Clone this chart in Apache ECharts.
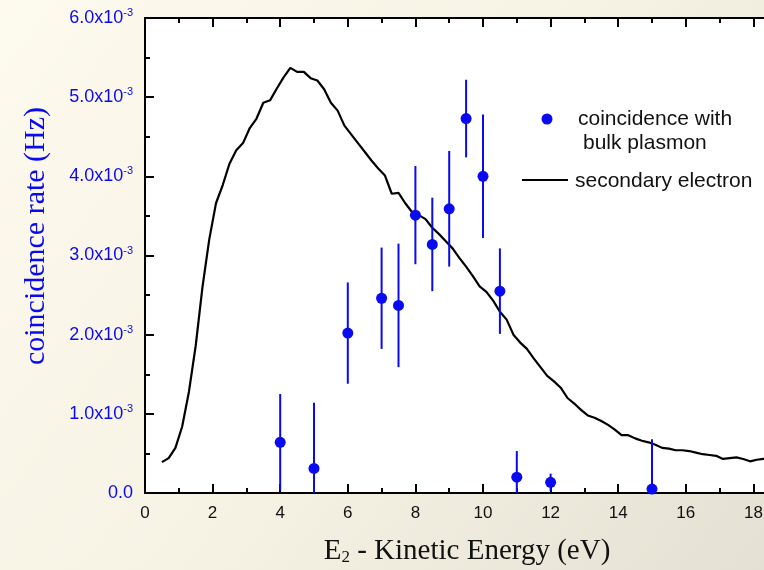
<!DOCTYPE html>
<html>
<head>
<meta charset="utf-8">
<script src="https://cdn.jsdelivr.net/npm/echarts@6/dist/echarts.min.js"></script>
<style>
  html, body { margin: 0; padding: 0; }
  #chart { width: 764px; height: 570px; }
</style>
</head>
<body>
<div id="chart"></div>
<script>
// Secondary electron spectrum (rate in units of 10^-3 Hz)
const energyGrid = [0.5, 0.7, 0.9, 1.1, 1.3, 1.5, 1.7, 1.9, 2.1, 2.3, 2.5, 2.7, 2.9, 3.1, 3.3, 3.5, 3.7, 3.9,
  4.1, 4.3, 4.5, 4.7, 4.9, 5.1, 5.3, 5.5, 5.7, 5.9, 6.1, 6.3, 6.5, 6.7, 6.9, 7.1, 7.3, 7.5, 7.7, 7.9,
  8.1, 8.3, 8.5, 8.7, 8.9, 9.1, 9.3, 9.5, 9.7, 9.9, 10.1, 10.3, 10.5, 10.7, 10.9, 11.1, 11.3, 11.5,
  11.7, 11.9, 12.1, 12.3, 12.5, 12.7, 12.9, 13.1, 13.3, 13.5, 13.7, 13.9, 14.1, 14.3, 14.5, 14.7,
  14.9, 15.1, 15.3, 15.5, 15.7, 15.9, 16.1, 16.3, 16.5, 16.7, 16.9, 17.1, 17.3, 17.5, 17.7, 17.9,
  18.1, 18.3, 18.5];
const secondaryRate = [0.39, 0.44, 0.57, 0.84, 1.28, 1.86, 2.60, 3.20, 3.66, 3.89, 4.16, 4.33, 4.42, 4.61, 4.73, 4.93, 4.96, 5.11,
  5.25, 5.37, 5.32, 5.32, 5.24, 5.21, 5.10, 4.93, 4.83, 4.64, 4.53, 4.42, 4.31, 4.20, 4.10, 4.01, 3.78, 3.79, 3.66, 3.55,
  3.51, 3.46, 3.35, 3.27, 3.18, 3.09, 2.97, 2.86, 2.74, 2.61, 2.54, 2.43, 2.29, 2.19, 2.00, 1.90, 1.82, 1.70,
  1.59, 1.48, 1.41, 1.33, 1.20, 1.13, 1.05, 0.98, 0.95, 0.91, 0.86, 0.80, 0.73, 0.73, 0.69, 0.66,
  0.64, 0.61, 0.57, 0.56, 0.54, 0.54, 0.53, 0.51, 0.49, 0.48, 0.47, 0.43, 0.44, 0.45, 0.43, 0.40,
  0.42, 0.43, 0.42];

// Coincidence with bulk plasmon: energy, rate and error (10^-3 Hz)
const pointEnergy = [4, 5, 6, 7, 7.5, 8, 8.5, 9, 9.5, 10, 10.5, 11, 12, 15];
const pointRate   = [0.64, 0.31, 2.02, 2.46, 2.37, 3.51, 3.14, 3.59, 4.73, 4.00, 2.55, 0.20, 0.135, 0.05];
const pointError  = [0.61, 0.83, 0.64, 0.64, 0.78, 0.62, 0.59, 0.73, 0.49, 0.78, 0.54, 0.33, 0.11, 0.63];

const xTicks = { min: 0, max: 20, interval: 2 };
const yTicks = { min: 0, max: 6, interval: 1 };

const BLUE = '#0a0af0';
const SANS = '"Liberation Sans", Arial, sans-serif';
const SERIF = '"Liberation Serif", "Times New Roman", serif';

const curveData = energyGrid.map((e, i) => [e, secondaryRate[i]]);
const pointData = pointEnergy.map((e, i) => [e, pointRate[i]]);
const errorData = pointEnergy.map((e, i) => [e, pointRate[i] - pointError[i], pointRate[i] + pointError[i]]);

const tickStyle = { show: true, inside: true, length: 9, lineStyle: { color: '#000', width: 2 } };
const minorStyle = { show: true, splitNumber: 2, length: 5, lineStyle: { color: '#000', width: 2 } };

const chart = echarts.init(document.getElementById('chart'), null, { renderer: 'canvas' });

chart.setOption({
  animation: false,
  backgroundColor: {
    type: 'linear', x: 0, y: 0, x2: 1, y2: 1,
    colorStops: [
      { offset: 0, color: '#FDFAEE' },
      { offset: 0.5, color: '#F6F2E4' },
      { offset: 1, color: '#E4E0D3' }
    ]
  },
  grid: {
    left: 145, top: 18, width: 676, height: 475,
    outerBoundsMode: 'none',
    containLabel: false,
    show: true, backgroundColor: '#ffffff', borderWidth: 0
  },
  xAxis: [{
    type: 'value', position: 'bottom',
    min: xTicks.min, max: xTicks.max, interval: xTicks.interval,
    axisLine: { show: true, onZero: false, lineStyle: { color: '#000', width: 2 } },
    axisTick: tickStyle, minorTick: minorStyle,
    splitLine: { show: false },
    axisLabel: { color: '#111', fontFamily: SANS, fontSize: 17, margin: 12 }
  }, {
    type: 'value', position: 'top',
    min: xTicks.min, max: xTicks.max, interval: xTicks.interval,
    axisLine: { show: true, onZero: false, lineStyle: { color: '#000', width: 2 } },
    axisTick: tickStyle, minorTick: minorStyle,
    splitLine: { show: false },
    axisLabel: { show: false }
  }],
  yAxis: {
    type: 'value',
    min: yTicks.min, max: yTicks.max, interval: yTicks.interval,
    axisLine: { show: true, onZero: false, lineStyle: { color: '#000', width: 2 } },
    axisTick: tickStyle, minorTick: minorStyle,
    splitLine: { show: false },
    axisLabel: {
      margin: 12,
      formatter: v => v === 0 ? '{n|0.0}' : '{n|' + v.toFixed(1) + 'x10}{s|-3}',
      rich: {
        n: { color: BLUE, fontFamily: SANS, fontSize: 18 },
        s: { color: BLUE, fontFamily: SANS, fontSize: 11, padding: [0, 0, 10, 0] }
      }
    }
  },
  series: [{
    name: 'secondary electron',
    type: 'line',
    data: curveData,
    showSymbol: false,
    smooth: false,
    lineStyle: { color: '#000', width: 2.2 },
    z: 3
  }, {
    name: 'error bars',
    type: 'custom',
    clip: true,
    data: errorData,
    renderItem: (params, api) => {
      const lo = api.coord([api.value(0), api.value(1)]);
      const hi = api.coord([api.value(0), api.value(2)]);
      return {
        type: 'line',
        shape: { x1: lo[0], y1: lo[1], x2: hi[0], y2: hi[1] },
        style: { stroke: BLUE, lineWidth: 2 }
      };
    },
    encode: { x: 0, y: [1, 2] },
    z: 4
  }, {
    name: 'coincidence with bulk plasmon',
    type: 'scatter',
    data: pointData,
    symbol: 'circle',
    symbolSize: 11,
    clip: false,
    itemStyle: { color: BLUE, opacity: 1 },
    z: 5
  }],
  graphic: [
    // legend
    { type: 'circle', shape: { cx: 547, cy: 119, r: 5.5 }, style: { fill: BLUE } },
    { type: 'text', x: 578, y: 119, style: { text: 'coincidence with', font: '21px ' + SANS, fill: '#111', textVerticalAlign: 'middle' } },
    { type: 'text', x: 583, y: 143, style: { text: 'bulk plasmon', font: '21px ' + SANS, fill: '#111', textVerticalAlign: 'middle' } },
    { type: 'line', shape: { x1: 522, y1: 180, x2: 568, y2: 180 }, style: { stroke: '#000', lineWidth: 2.2 } },
    { type: 'text', x: 575, y: 181, style: { text: 'secondary electron', font: '21px ' + SANS, fill: '#111', textVerticalAlign: 'middle' } },
    // axis titles
    {
      type: 'text', x: 36, y: 236, rotation: Math.PI / 2,
      style: { text: 'coincidence rate (Hz)', font: '30px ' + SERIF, fill: BLUE, textAlign: 'center', textVerticalAlign: 'middle' }
    },
    {
      type: 'text', x: 467, y: 551,
      style: {
        text: '{a|E}{b|2}{a| - Kinetic Energy (eV)}',
        textAlign: 'center', textVerticalAlign: 'middle',
        rich: {
          a: { fontFamily: SERIF, fontSize: 29, fill: '#111', color: '#111' },
          b: { fontFamily: SERIF, fontSize: 17, fill: '#111', color: '#111', padding: [14, 0, 0, 0] }
        }
      }
    }
  ]
});
</script>
</body>
</html>
